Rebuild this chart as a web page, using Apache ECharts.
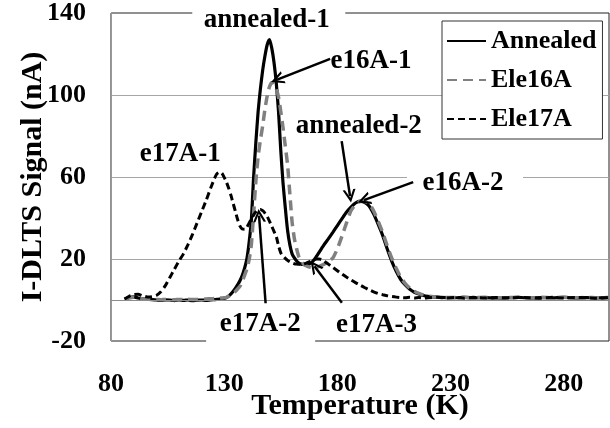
<!DOCTYPE html>
<html><head><meta charset="utf-8">
<script src="https://cdn.jsdelivr.net/npm/echarts@6/dist/echarts.min.js"></script>
<style>html,body{margin:0;padding:0;background:#fff}#c{width:610px;height:428px}</style>
</head><body><div id="c"></div>
<script>
// Temperature (K)
const temps = [
  86, 88, 90, 92, 94, 96, 98, 100, 102, 104,
  106, 108, 110, 112, 114, 116, 118, 120, 122, 124,
  126, 127, 128, 129, 130, 131, 132, 133, 134, 135,
  136, 137, 138, 139, 140, 141, 142, 143, 144, 145,
  146, 147, 148, 149, 150, 151, 152, 153, 154, 155,
  156, 157, 158, 159, 160, 161, 162, 163, 164, 165,
  166, 167, 168, 169, 170, 171, 172, 173, 174, 175,
  176, 178, 180, 182, 184, 186, 188, 190, 192, 194,
  196, 198, 200, 202, 204, 206, 208, 210, 212, 214,
  216, 218, 220, 224, 228, 232, 236, 240, 245, 250,
  255, 260, 265, 270, 275, 280, 285, 290, 295, 300
];
// I-DLTS signal (nA)
const annealed = [
  0.5, 1.2, 1.5, 1.0, 0.6, 0.3, 0.2, 0.0, -0.2, 0.1,
  0.0, -0.3, 0.1, -0.2, 0.0, -0.3, -0.1, 0.0, -0.2, 0.1,
  0.2, 0.3, 0.4, 0.6, 0.8, 1.2, 2.0, 3.0, 4.3, 5.8,
  7.5, 9.5, 12, 15.5, 20, 28, 39, 60, 77, 92,
  103, 112, 119, 124.5, 127, 123, 116, 106, 92, 73,
  57, 45, 34, 27, 22.5, 20.5, 19, 18, 17.5, 17.3,
  17.2, 17.3, 17.8, 18.7, 20, 21.7, 23.4, 25.1, 26.8, 28.3,
  29.8, 33, 36.3, 39.6, 42.8, 45.3, 47.3, 48.2, 47.6, 45.8,
  42, 37, 31.5, 25, 19, 14, 10, 7.3, 5.2, 3.8,
  2.9, 2.2, 1.8, 1.4, 1.2, 1.1, 1.3, 1.0, 1.2, 0.9,
  1.1, 1.3, 0.9, 1.2, 1.0, 1.3, 0.9, 1.2, 1.0, 1.1
];
const ele16A = [
  0.4, 1.0, 1.3, 0.9, 0.5, 0.4, 0.2, 0.3, 0.1, 0.3,
  0.2, 0.1, 0.3, 0.2, 0.4, 0.2, 0.3, 0.4, 0.5, 0.6,
  0.7, 0.8, 0.9, 1.0, 1.1, 1.3, 1.8, 2.5, 3.3, 4.3,
  5.5, 6.8, 9, 12, 15, 19.5, 27, 42, 58, 70,
  78, 85, 93, 99.5, 104, 106, 105.5, 103, 99, 92,
  84, 75, 66, 52, 38, 30, 25, 21, 19, 17.6,
  16.8, 16.3, 16, 15.8, 15.8, 16, 16.4, 16.9, 17.4, 18,
  18.8, 20.5, 25, 31, 37.5, 43.5, 46.5, 48, 48, 47,
  43.5, 38.5, 33, 26.5, 20.5, 15.5, 11, 8, 5.8, 4.3,
  3.2, 2.5, 2.0, 1.5, 1.3, 1.2, 1.4, 1.1, 1.3, 1.0,
  1.2, 1.4, 1.0, 1.3, 1.1, 1.4, 1.0, 1.3, 1.1, 1.2
];
const ele17A = [
  0.5, 1.8, 2.6, 2.8, 2.0, 1.5, 1.6, 2.2, 4.0, 7.0,
  11, 15, 19, 22.5, 27, 32, 37.5, 43, 48.5, 54.5,
  60, 61.8, 62.4, 61.8, 59.8, 57.5, 54.5, 51, 47, 43,
  39, 36, 34.6, 34.5, 35.5, 37.5, 39.5, 41.5, 43, 44,
  44.2, 43.6, 42.4, 40.8, 38.5, 36, 33.5, 31, 26.5, 23,
  21.5, 20.3, 19.3, 18.6, 18.1, 17.7, 17.5, 17.4, 17.4, 17.6,
  17.9, 18.4, 18.9, 19.4, 19.8, 20, 20, 19.7, 19.1, 18.3,
  17.5, 15.9, 14.3, 12.7, 11.2, 9.8, 8.5, 7.3, 6.1, 5.0,
  4.0, 3.2, 2.6, 2.1, 1.7, 1.4, 1.2, 1.1, 1.3, 1.0,
  1.2, 0.9, 1.1, 1.3, 1.0, 1.2, 0.9, 1.3, 1.0, 1.2,
  1.0, 1.2, 1.1, 0.9, 1.3, 1.0, 1.2, 1.1, 0.9, 1.2
];
const seriesNames = ['Annealed', 'Ele16A', 'Ele17A'];
const xTickValues = [80, 130, 180, 230, 280];
const yTickValues = [-20, 20, 60, 100, 140];
const peakLabels = ['annealed-1', 'e16A-1', 'annealed-2', 'e17A-1', 'e16A-2', 'e17A-2', 'e17A-3'];

const F = 'Liberation Serif';
const zip = (vals) => temps.map((t, i) => [t, vals[i]]);

// annotation placement (data coordinates)
const labelAt = {
  'annealed-1': [148.8, 136.8], 'e16A-1': [194.9, 116.5], 'annealed-2': [189.5, 84.8],
  'e17A-1': [110.6, 71.0], 'e16A-2': [235.5, 57.0], 'e17A-2': [145.9, -11.8], 'e17A-3': [197.3, -12.3]
};
const arrows = [
  [[176.8, 117.6], [153.4, 107.5]],
  [[181.9, 77.5], [185.6, 50.7]],
  [[213.5, 57.5], [191.7, 48.7]],
  [[148.3, -1.6], [145.4, 41.2]],
  [[182.0, -1.3], [169.9, 16.5]]
];
const boxes = [
  { c: [149.7, 140], s: [153, 8] },
  { c: [236.4, 60], s: [116, 8] },
  { c: [146.1, -20], s: [109, 8] }
];

const chart = echarts.init(document.getElementById('c'), null, { renderer: 'canvas' });
const txt = { fontFamily: F, fontWeight: 'bold', color: '#000' };
const openArrow = 'path://M0,10 L5,0 L10,10 L8.2,10 L5,3.6 L1.8,10 Z';

chart.setOption({
  animation: false,
  backgroundColor: '#fff',
  grid: { left: 111, top: 13, width: 498, height: 328, outerBoundsMode: 'none', containLabel: false,
    show: true, borderColor: '#222', borderWidth: 1, backgroundColor: 'transparent' },
  xAxis: {
    type: 'value', min: 80, max: 300, interval: 50,
    axisLine: { show: false, onZero: false }, axisTick: { show: false }, splitLine: { show: false },
    axisLabel: Object.assign({ margin: 30, fontSize: 26, showMaxLabel: false,
      formatter: v => xTickValues.includes(v) ? String(v) : '' }, txt),
    name: 'Temperature (K)', nameLocation: 'middle', nameGap: 50, nameMoveOverlap: false,
    nameTextStyle: Object.assign({ fontSize: 30 }, txt)
  },
  yAxis: {
    type: 'value', min: -20, max: 140, interval: 40,
    axisLine: { show: true, onZero: false, lineStyle: { color: '#999', width: 1 } },
    axisTick: { show: false },
    splitLine: { show: true, showMinLine: false, showMaxLine: false, lineStyle: { color: '#a6a6a6', width: 1 } },
    axisLabel: Object.assign({ margin: 25, fontSize: 26,
      formatter: v => yTickValues.includes(v) ? String(v) : '' }, txt),
    name: 'I-DLTS Signal (nA)', nameLocation: 'middle', nameGap: 63, nameMoveOverlap: false,
    nameTextStyle: Object.assign({ fontSize: 30 }, txt)
  },
  legend: {
    data: seriesNames, orient: 'vertical', left: 442, top: 21,
    itemWidth: 39, itemHeight: 12, itemGap: 13, padding: [7, 6, 7, 4],
    backgroundColor: '#fff', borderColor: '#333', borderWidth: 1,
    itemStyle: { opacity: 0 },
    textStyle: Object.assign({ fontSize: 26 }, txt)
  },
  series: [
    {
      type: 'line', data: [], z: 1, silent: true,
      markLine: { silent: true, symbol: 'none', label: { show: false },
        lineStyle: { color: '#8c8c8c', width: 1, type: 'solid' }, data: [{ yAxis: 0 }] }
    },
    { name: seriesNames[0], type: 'line', data: zip(annealed), symbol: 'none', smooth: 0.2, z: 3,
      lineStyle: { color: '#000', width: 3.2, type: 'solid' }, itemStyle: { color: '#000' } },
    { name: seriesNames[1], type: 'line', data: zip(ele16A), symbol: 'none', smooth: 0.2, z: 3,
      lineStyle: { color: '#808080', width: 3.5, type: [10, 6] }, itemStyle: { color: '#808080' } },
    { name: seriesNames[2], type: 'line', data: zip(ele17A), symbol: 'none', smooth: 0.2, z: 4,
      lineStyle: { color: '#000', width: 3, type: [7, 4] }, itemStyle: { color: '#000' } },
    {
      type: 'line', data: [], z: 5, silent: true,
      markPoint: {
        silent: true,
        data: boxes.map(b => ({ coord: b.c, symbol: 'rect', symbolSize: b.s, itemStyle: { color: '#fff' }, label: { show: false } }))
          .concat(peakLabels.map(n => ({
            name: n, coord: labelAt[n], symbol: 'rect', symbolSize: [1, 1], itemStyle: { color: 'rgba(0,0,0,0)' },
            label: Object.assign({ show: true, position: 'inside', formatter: n, fontSize: 27 }, txt)
          })))
      },
      markLine: {
        silent: true, symbol: ['none', openArrow], symbolSize: [13, 13], label: { show: false },
        lineStyle: { color: '#000', width: 2.5, type: 'solid' },
        data: arrows.map(a => [{ coord: a[0] }, { coord: a[1] }])
      }
    }
  ]
});
</script></body></html>
